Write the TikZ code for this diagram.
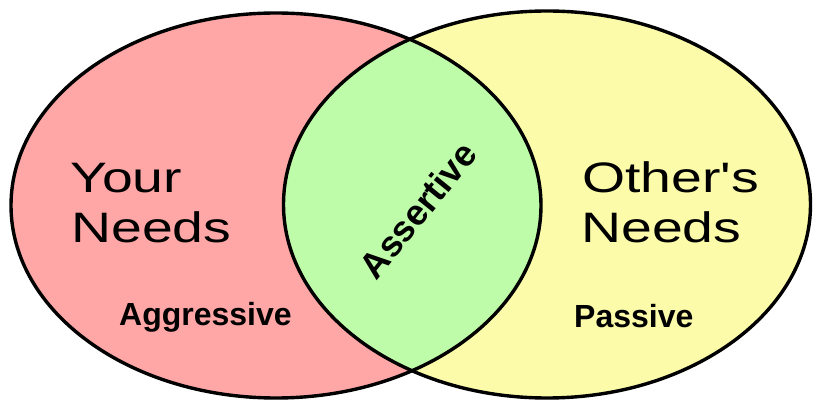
\documentclass[tikz,border=0pt]{standalone}
\usepackage{fontspec}
\setmainfont{Liberation Sans}
\definecolor{pinkfill}{RGB}{255,167,167}
\definecolor{yellowfill}{RGB}{251,251,170}
\definecolor{greenfill}{RGB}{191,252,169}
\begin{document}
\begin{tikzpicture}[x=1pt,y=-1pt,
  outline/.style={draw=black,line width=3.4pt},
  bigtext/.style={inner sep=0pt,anchor=base west,xscale=1.3,font=\fontsize{42.6}{49.5}\selectfont},
  smalltext/.style={inner sep=0pt,anchor=base west,font=\fontsize{32}{38}\selectfont\bfseries}]
\useasboundingbox (0,0) rectangle (814,403);
\coordinate (lc) at (276,205.5);
\coordinate (rc) at (547,204.5);
\fill[pinkfill] (lc) ellipse [x radius=265, y radius=192.5];
\fill[yellowfill] (rc) ellipse [x radius=263.5, y radius=193.5];
\begin{scope}
  \clip (lc) ellipse [x radius=265, y radius=192.5];
  \fill[greenfill] (rc) ellipse [x radius=263.5, y radius=193.5];
\end{scope}
\draw[outline] (lc) ellipse [x radius=265, y radius=192.5];
\draw[outline] (rc) ellipse [x radius=263.5, y radius=193.5];
\node[bigtext] (your) at (70,193) {Your};
\node[bigtext] (yneeds) at (71,242.5) {Needs};
\node[bigtext] (others) at (582,193) {Other\textquotesingle s};
\node[bigtext] (oneeds) at (581,242.5) {Needs};
\node[smalltext] (aggr) at (119,326) {Aggressive};
\node[smalltext] (pass) at (574,327) {Passive};
\node[inner sep=0pt,rotate=51,font=\fontsize{36}{40}\selectfont\bfseries] (assert) at (418,210) {Assertive};
\end{tikzpicture}
\end{document}
